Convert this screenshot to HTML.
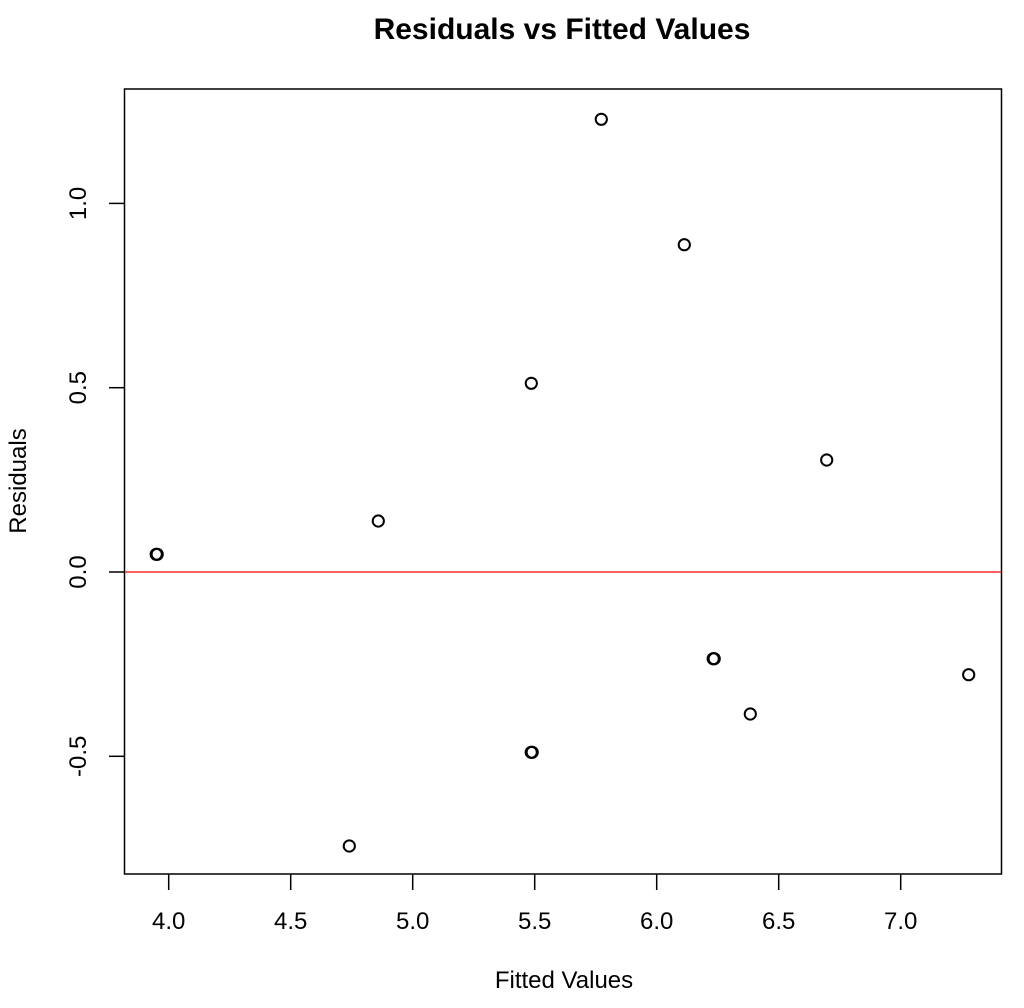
<!DOCTYPE html>
<html>
<head>
<meta charset="utf-8">
<style>
html,body{margin:0;padding:0;background:#fff;}
svg{display:block;}
text{font-family:"Liberation Sans",Arial,sans-serif;fill:#000;}
</style>
</head>
<body>
<svg width="1024" height="1008" viewBox="0 0 1024 1008" xmlns="http://www.w3.org/2000/svg">
<rect x="0" y="0" width="1024" height="1008" fill="#fff"/>
<!-- title -->
<text x="562" y="39" font-size="30" font-weight="bold" text-anchor="middle">Residuals vs Fitted Values</text>
<!-- plot box -->
<rect x="124.5" y="89" width="877" height="785" fill="none" stroke="#000" stroke-width="1.5"/>
<!-- red zero line -->
<line x1="125" y1="572" x2="1001" y2="572" stroke="#ff2a2a" stroke-width="1.6"/>
<!-- x ticks -->
<g stroke="#000" stroke-width="1.5">
<line x1="168.7" y1="874" x2="168.7" y2="890"/>
<line x1="290.7" y1="874" x2="290.7" y2="890"/>
<line x1="412.7" y1="874" x2="412.7" y2="890"/>
<line x1="534.7" y1="874" x2="534.7" y2="890"/>
<line x1="656.7" y1="874" x2="656.7" y2="890"/>
<line x1="778.7" y1="874" x2="778.7" y2="890"/>
<line x1="900.7" y1="874" x2="900.7" y2="890"/>
</g>
<g font-size="24" text-anchor="middle">
<text x="168.7" y="929">4.0</text>
<text x="290.7" y="929">4.5</text>
<text x="412.7" y="929">5.0</text>
<text x="534.7" y="929">5.5</text>
<text x="656.7" y="929">6.0</text>
<text x="778.7" y="929">6.5</text>
<text x="900.7" y="929">7.0</text>
</g>
<!-- y ticks -->
<g stroke="#000" stroke-width="1.5">
<line x1="109" y1="756.3" x2="124.5" y2="756.3"/>
<line x1="109" y1="572" x2="124.5" y2="572"/>
<line x1="109" y1="387.7" x2="124.5" y2="387.7"/>
<line x1="109" y1="203.4" x2="124.5" y2="203.4"/>
</g>
<g font-size="24" text-anchor="middle">
<text transform="translate(86,756.3) rotate(-90)">-0.5</text>
<text transform="translate(86,572) rotate(-90)">0.0</text>
<text transform="translate(86,387.7) rotate(-90)">0.5</text>
<text transform="translate(86,203.4) rotate(-90)">1.0</text>
</g>
<!-- axis labels -->
<text x="564" y="988" font-size="24" text-anchor="middle">Fitted Values</text>
<text transform="translate(26,481) rotate(-90)" font-size="24" text-anchor="middle">Residuals</text>
<!-- points -->
<g fill="none" stroke="#000" stroke-width="2">
<circle cx="156.2" cy="554.3" r="5.6"/>
<circle cx="157.2" cy="554.3" r="5.6"/>
<circle cx="378.3" cy="521" r="5.6"/>
<circle cx="601.3" cy="119.3" r="5.6"/>
<circle cx="684.3" cy="244.7" r="5.6"/>
<circle cx="713.2" cy="658.7" r="5.6"/>
<circle cx="714.2" cy="658.7" r="5.6"/>
<circle cx="750.3" cy="714" r="5.6"/>
<circle cx="968.7" cy="674.7" r="5.6"/>
<circle cx="531.3" cy="383.3" r="5.6"/>
<circle cx="826.7" cy="460" r="5.6"/>
<circle cx="531.2" cy="752.3" r="5.6"/>
<circle cx="532.2" cy="752.3" r="5.6"/>
<circle cx="349.3" cy="846" r="5.6"/>
</g>
</svg>
</body>
</html>
